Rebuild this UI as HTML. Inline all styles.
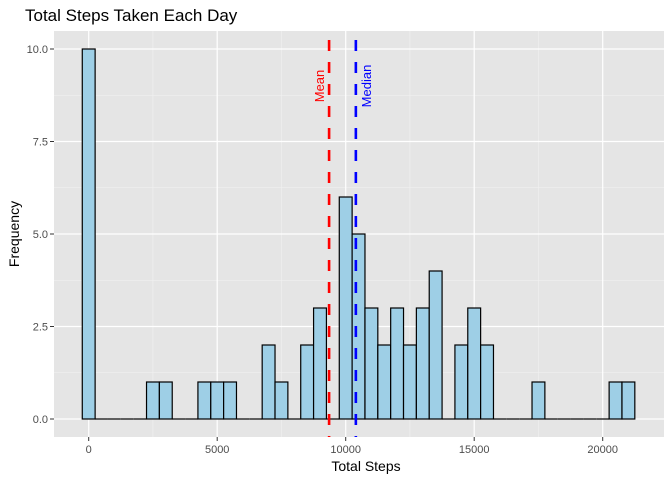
<!DOCTYPE html>
<html><head><meta charset="utf-8"><style>
html,body{margin:0;padding:0;background:#fff;}
svg{display:block;font-family:"Liberation Sans",sans-serif;}
</style></head><body>
<svg id="chart" width="672" height="480" xmlns="http://www.w3.org/2000/svg">
<text x="25" y="21" font-size="17" fill="#000">Total Steps Taken Each Day</text>
<rect x="54" y="31" width="610" height="406" fill="#e5e5e5"/>
<g id="grid"></g>
<g id="bars"></g>
<g id="refs"></g>
<g id="axes"></g>
<text x="366" y="471" font-size="14" text-anchor="middle" fill="#000">Total Steps</text>
<text transform="translate(19,234) rotate(-90)" font-size="14" text-anchor="middle" fill="#000">Frequency</text>
</svg>
<script>
const binCenters = [0,500,1000,1500,2000,2500,3000,3500,4000,4500,5000,5500,6000,6500,7000,7500,8000,8500,9000,9500,10000,10500,11000,11500,12000,12500,13000,13500,14000,14500,15000,15500,16000,16500,17000,17500,18000,18500,19000,19500,20000,20500,21000];
const counts = [10,0,0,0,0,1,1,0,0,1,1,1,0,0,2,1,0,2,3,0,6,5,3,2,3,2,3,4,0,2,3,2,0,0,0,1,0,0,0,0,0,1,1];
const binWidth = 500;
const meanSteps = 9354;
const medianSteps = 10395;
const xTicks = [0,5000,10000,15000,20000];
const yTicks = [0,2.5,5,7.5,10];
const yTickLabels = ["0.0","2.5","5.0","7.5","10.0"];

const NS="http://www.w3.org/2000/svg";
const X0=88.7, PXK=0.0257;
function xs(v){return X0+v*PXK;}
function ys(v){return 419-v*37;}
function mk(tag,attrs,parent){const e=document.createElementNS(NS,tag);for(const k in attrs)e.setAttribute(k,attrs[k]);parent.appendChild(e);return e;}
const grid=document.getElementById('grid'),bars=document.getElementById('bars'),refs=document.getElementById('refs'),axes=document.getElementById('axes');
for(let i=0;i<yTicks.length-1;i++){const v=(yTicks[i]+yTicks[i+1])/2;const l=mk('line',{x1:54,x2:664,y1:ys(v),y2:ys(v),stroke:'#f2f2f2','stroke-width':0.6},grid);

}
for(let i=0;i<xTicks.length-1;i++){const v=(xTicks[i]+xTicks[i+1])/2;const l=mk('line',{x1:xs(v),x2:xs(v),y1:31,y2:437,stroke:'#f2f2f2','stroke-width':0.6},grid);

}
yTicks.forEach((v,i)=>{const l=mk('line',{x1:54,x2:664,y1:ys(v),y2:ys(v),stroke:'#fff','stroke-width':1.2},grid);


mk('line',{x1:50,x2:54,y1:ys(v),y2:ys(v),stroke:'#333','stroke-width':1},axes);
const t=mk('text',{x:48,y:ys(v)+4,'font-size':11,'text-anchor':'end',fill:'#4d4d4d'},axes);t.textContent=yTickLabels[i];

});
xTicks.forEach(v=>{const l=mk('line',{x1:xs(v),x2:xs(v),y1:31,y2:437,stroke:'#fff','stroke-width':1.2},grid);


mk('line',{x1:xs(v),x2:xs(v),y1:437,y2:441,stroke:'#333','stroke-width':1},axes);
const t=mk('text',{x:xs(v),y:453,'font-size':11,'text-anchor':'middle',fill:'#4d4d4d'},axes);t.textContent=v;

});
binCenters.forEach((c,i)=>{const x1=xs(c-binWidth/2),x2=xs(c+binWidth/2);
if(counts[i]===0){const z=mk('line',{x1:x1,x2:x2,y1:ys(0),y2:ys(0),stroke:'#000','stroke-width':1.2},bars);

return;}
const r=mk('rect',{x:x1,y:ys(counts[i]),width:x2-x1,height:ys(0)-ys(counts[i]),fill:'#9ecfe6',stroke:'#000','stroke-width':1.2},bars);

});
function ref(v,color,label,name,dx){const x=xs(v);const l=mk('line',{x1:x,x2:x,y1:40,y2:437,stroke:color,'stroke-width':2.6,'stroke-dasharray':'11,11'},refs);


const t=mk('text',{transform:`translate(${x+dx},86) rotate(-90)`,'font-size':13,'text-anchor':'middle',fill:color},refs);t.textContent=label;

}
ref(meanSteps,'#ff0000','Mean','mean',-5);
ref(medianSteps,'#0000ff','Median','median',15);
</script>
</body></html>
